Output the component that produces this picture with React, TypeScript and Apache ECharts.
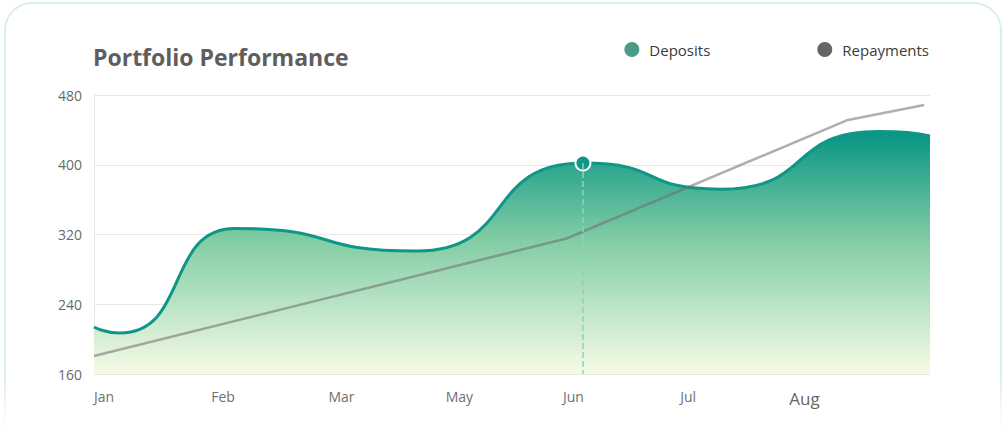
import React, { useEffect, useRef } from "react";
import * as echarts from "echarts";

const monthLabels = ["Jan", "Feb", "Mar", "May", "Jun", "Jul", "Aug"];
const monthPositions = [0, 1, 2, 3, 4, 5, 5.93];
const xMax = 7.13;

const depositsX = [0, 0.22, 1.2, 2.75, 4.17, 5.34, 6.7, 7.13];
const depositsY = [214, 207, 327, 301, 402, 372, 438, 433];

const repaymentsX = [0, 4.03, 6.42, 7.08];
const repaymentsY = [180.6, 315.4, 451, 468.6];

const highlightIndex = 4;

const yTicks = { min: 160, max: 480, interval: 80 };

const FONT = "'Open Sans', 'Noto Sans', sans-serif";

export default function App() {
  const ref = useRef<HTMLDivElement>(null);

  useEffect(() => {
    if (!ref.current) return;
    const chart = echarts.init(ref.current, undefined, { renderer: "svg" });

    const depositsData = depositsX.map((x, i) => {
      if (i === highlightIndex) {
        return {
          value: [x, depositsY[i]],
          symbol: "circle",
          symbolSize: 15,
          itemStyle: { color: "#0e9686", borderColor: "#ffffff", borderWidth: 2 },
        };
      }
      return { value: [x, depositsY[i]], symbol: "none" };
    });

    const hx = depositsX[highlightIndex];
    const hy = depositsY[highlightIndex];

    chart.setOption({
      animation: false,
      textStyle: { fontFamily: FONT },
      title: {
        text: "Portfolio Performance",
        left: 93,
        top: 45,
        padding: 0,
        textStyle: { fontFamily: FONT, fontSize: 23, fontWeight: 700, color: "#5e5e5e" },
      },
      legend: {
        right: 71,
        top: 37,
        icon: "circle",
        itemWidth: 15,
        itemHeight: 15,
        itemGap: 107,
        textStyle: { fontFamily: FONT, fontSize: 15, color: "#3a3a3a", padding: [0, 0, 0, 5] },
        data: [
          { name: "Deposits", itemStyle: { color: "#4c9b88" } },
          { name: "Repayments", itemStyle: { color: "#666666" } },
        ],
      },
      grid: { left: 94, right: 75, top: 95, bottom: 64 },
      xAxis: {
        type: "value",
        min: 0,
        max: xMax,
        axisLine: { show: true, lineStyle: { color: "#e4e6dc", width: 1 } },
        axisTick: { show: false },
        splitLine: { show: false },
        axisLabel: {
          customValues: monthPositions,
          margin: 15,
          align: "left",
          color: "#707070",
          fontSize: 14,
          fontFamily: FONT,
          formatter: (v: number) => {
            const idx = monthPositions.findIndex((p) => Math.abs(p - v) < 1e-6);
            const name = idx >= 0 ? monthLabels[idx] : "";
            return name === "Aug" ? "{big|" + name + "}" : name;
          },
          rich: {
            big: { fontSize: 17, color: "#666666", fontFamily: FONT, padding: [1, 0, 0, 0] },
          },
        },
      },
      yAxis: {
        type: "value",
        min: yTicks.min,
        max: yTicks.max,
        interval: yTicks.interval,
        axisLine: { show: true, lineStyle: { color: "#e8e8e8", width: 1 } },
        axisTick: { show: false },
        splitLine: { show: true, lineStyle: { color: "#e8e8e8", width: 1 } },
        axisLabel: { margin: 12, color: "#6a6a6a", fontSize: 14, fontFamily: FONT },
      },
      series: [
        {
          name: "Deposits",
          type: "line",
          smooth: 0.6,
          smoothMonotone: "x",
          data: depositsData,
          symbol: "none",
          lineStyle: { color: "#0e9686", width: 3 },
          itemStyle: { color: "#0e9686" },
          areaStyle: {
            color: new echarts.graphic.LinearGradient(0, 0, 0, 1, [
              { offset: 0, color: "#079484" },
              { offset: 0.45, color: "#82cda5" },
              { offset: 1, color: "#f7fbe6" },
            ]),
            opacity: 1,
          },
          markLine: {
            silent: true,
            symbol: "none",
            label: { show: false },
            lineStyle: { color: "#8ad6b4", type: "dashed", width: 1.5 },
            data: [[{ coord: [hx, hy] }, { coord: [hx, yTicks.min] }]],
          },
          z: 2,
        },
        {
          name: "Repayments",
          type: "line",
          data: repaymentsX.map((x, i) => [x, repaymentsY[i]]),
          symbol: "none",
          lineStyle: { color: "rgba(110,110,110,0.55)", width: 2.5 },
          itemStyle: { color: "#666666" },
          z: 3,
        },
      ],
    });

    return () => chart.dispose();
  }, []);

  return (
    <div style={{ position: "absolute", left: 0, top: 0, width: 1005, height: 438, overflow: "hidden", background: "#ffffff" }}>
      <div
        style={{
          position: "absolute",
          left: 4,
          top: 2,
          width: 994,
          height: 470,
          borderRadius: 28,
          border: "2px solid #d6efe9",
          background: "#ffffff",
          WebkitMaskImage: "linear-gradient(to bottom, black 78%, transparent 90%)",
          maskImage: "linear-gradient(to bottom, black 78%, transparent 90%)",
        }}
      />
      <div ref={ref} style={{ position: "absolute", left: 0, top: 0, width: 1005, height: 438 }} />
    </div>
  );
}
